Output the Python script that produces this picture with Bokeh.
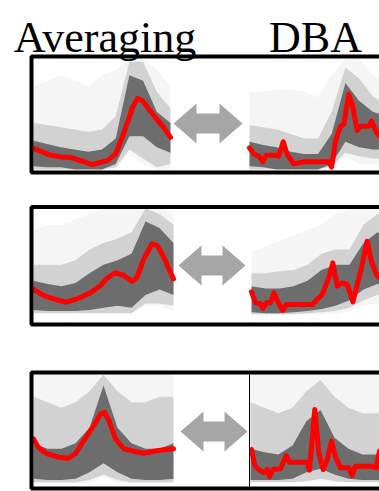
from bokeh.plotting import figure
from bokeh.models import Range1d
from bokeh.embed import file_html
from bokeh.resources import INLINE
from bokeh.core.properties import value

# ---------------- data ----------------
TITLES = ["Averaging", "DBA"]

# time grid for the grey envelopes (percent of series length)
T_BAND = [0, 10, 20, 30, 40, 50, 60, 70, 80, 90, 100]

# Row 1 - Averaging: red mean and grey envelopes (normalised 0..1)
AVG1_T = [0, 12.4, 21.2, 27, 34.3, 43, 54, 60, 65.7, 72.3, 75.9, 79.6, 87.6, 94.9, 100]
AVG1_V = [0.19, 0.13, 0.11, 0.11, 0.08, 0.045, 0.08, 0.14, 0.32, 0.56, 0.64, 0.62, 0.49, 0.38, 0.29]
AVG1_FAINT_LO = [0, 0, 0, 0, 0, 0, 0.0, 0.15, 0.05, 0, 0]
AVG1_FAINT_HI = [0.75, 0.8, 0.85, 0.8, 0.75, 0.85, 0.9, 1.0, 1.0, 0.9, 0.75]
AVG1_MID_LO = [0, 0, 0, 0, 0, 0, 0.02, 0.18, 0.1, 0.02, 0.05]
AVG1_MID_HI = [0.42, 0.4, 0.38, 0.36, 0.34, 0.36, 0.48, 0.97, 0.97, 0.7, 0.55]
AVG1_CORE_LO = [0.03, 0.02, 0.02, 0.0, 0.0, 0.0, 0.05, 0.3, 0.3, 0.2, 0.15]
AVG1_CORE_HI = [0.26, 0.23, 0.2, 0.18, 0.16, 0.18, 0.28, 0.85, 0.8, 0.52, 0.42]

# Row 1 - DBA
DBA1_T = [0, 3.1, 6.8, 9.7, 12.2, 19.0, 21.4, 24.6, 27.5, 32.3, 39.6, 57.9, 59.9, 62.8,
          66.4, 68.8, 72.5, 75.0, 78.6, 81.0, 87.1, 89.1, 92.5, 94.9]
DBA1_V = [0.195, 0.141, 0.120, 0.069, 0.129, 0.129, 0.120, 0.250, 0.135, 0.051, 0.069, 0.069,
          0.021, 0.255, 0.390, 0.405, 0.676, 0.586, 0.351, 0.390, 0.390, 0.435, 0.339, 0.300]
DBA1_FAINT_LO = [0, 0, 0, 0, 0, 0, 0.02, 0.12, 0.05, 0.05, 0.05]
DBA1_FAINT_HI = [0.7, 0.7, 0.72, 0.72, 0.7, 0.65, 0.85, 1.0, 1.0, 0.85, 0.8]
DBA1_MID_LO = [0, 0, 0, 0, 0, 0, 0.03, 0.15, 0.12, 0.1, 0.1]
DBA1_MID_HI = [0.4, 0.38, 0.36, 0.32, 0.28, 0.28, 0.52, 0.92, 0.82, 0.66, 0.58]
DBA1_CORE_LO = [0.03, 0.02, 0.0, 0.0, 0.0, 0.0, 0.05, 0.25, 0.2, 0.18, 0.18]
DBA1_CORE_HI = [0.25, 0.22, 0.2, 0.16, 0.14, 0.14, 0.32, 0.78, 0.62, 0.52, 0.48]

# Row 2 - Averaging
AVG2_T = [0, 7.4, 14.5, 22.9, 31.2, 40.7, 47.9, 52.6, 58.6, 64.5, 70.5, 74, 78.8, 84.8, 88.4, 93.1, 96.6, 100]
AVG2_V = [0.25, 0.194, 0.164, 0.132, 0.164, 0.219, 0.287, 0.355, 0.405, 0.380, 0.324, 0.364,
          0.534, 0.673, 0.657, 0.549, 0.442, 0.349]
AVG2_FAINT_LO = [0.03, 0.03, 0.03, 0.03, 0.03, 0.03, 0.03, 0.03, 0.1, 0.1, 0.05]
AVG2_FAINT_HI = [0.8, 0.85, 0.85, 0.9, 0.95, 1.0, 1.0, 1.0, 1.0, 1.0, 0.95]
AVG2_MID_LO = [0.03, 0.03, 0.03, 0.03, 0.03, 0.03, 0.03, 0.03, 0.12, 0.12, 0.1]
AVG2_MID_HI = [0.48, 0.48, 0.48, 0.52, 0.62, 0.68, 0.72, 0.78, 1.0, 0.95, 0.85]
AVG2_CORE_LO = [0.06, 0.05, 0.05, 0.05, 0.06, 0.08, 0.1, 0.08, 0.2, 0.25, 0.2]
AVG2_CORE_HI = [0.33, 0.3, 0.28, 0.31, 0.4, 0.48, 0.52, 0.58, 0.88, 0.82, 0.68]

# Row 2 - DBA
DBA2_T = [0, 2.9, 6.4, 8.1, 10.5, 13.6, 16, 19.1, 22.4, 24.8, 43.4, 50.5, 55.2, 58.1, 61.2,
          64.8, 68.4, 72.4, 75.5, 79.1, 82.6, 85.7, 89.1, 91.4]
DBA2_V = [0.229, 0.127, 0.118, 0.074, 0.127, 0.127, 0.219, 0.127, 0.056, 0.111, 0.111, 0.204,
          0.358, 0.497, 0.281, 0.312, 0.296, 0.136, 0.296, 0.481, 0.697, 0.512, 0.389, 0.358]
DBA2_FAINT_LO = [0.02, 0.02, 0.02, 0.02, 0.02, 0.02, 0.02, 0.05, 0.1, 0.12, 0.12]
DBA2_FAINT_HI = [0.6, 0.65, 0.7, 0.75, 0.8, 0.85, 0.95, 1.0, 1.0, 1.0, 1.0]
DBA2_MID_LO = [0.02, 0.02, 0.02, 0.02, 0.03, 0.04, 0.05, 0.08, 0.15, 0.2, 0.2]
DBA2_MID_HI = [0.4, 0.4, 0.42, 0.43, 0.48, 0.58, 0.62, 0.62, 0.85, 0.95, 0.9]
DBA2_CORE_LO = [0.04, 0.03, 0.03, 0.04, 0.05, 0.07, 0.1, 0.15, 0.25, 0.3, 0.3]
DBA2_CORE_HI = [0.28, 0.26, 0.26, 0.28, 0.33, 0.43, 0.48, 0.48, 0.68, 0.78, 0.72]

# Row 3 - Averaging
AVG3_T = [0, 3.6, 9.6, 17.9, 25, 30, 35.9, 43.1, 47.9, 50.7, 53.8, 58.6, 64.5, 71.6, 78.8, 85.9, 93.1, 100]
AVG3_V = [0.42, 0.34, 0.286, 0.255, 0.246, 0.286, 0.405, 0.541, 0.646, 0.66, 0.586, 0.42,
          0.331, 0.309, 0.291, 0.309, 0.322, 0.331]
AVG3_FAINT_LO = [0.02, 0.02, 0.02, 0.02, 0.02, 0.08, 0.02, 0.02, 0.02, 0.02, 0.02]
AVG3_FAINT_HI = [1.0, 1.0, 1.0, 1.0, 1.0, 1.0, 1.0, 1.0, 1.0, 1.0, 1.0]
AVG3_MID_LO = [0.03, 0.03, 0.03, 0.03, 0.05, 0.1, 0.05, 0.03, 0.03, 0.03, 0.03]
AVG3_MID_HI = [0.8, 0.75, 0.7, 0.75, 0.85, 1.0, 0.85, 0.75, 0.75, 0.8, 0.8]
AVG3_CORE_LO = [0.06, 0.05, 0.05, 0.06, 0.12, 0.2, 0.12, 0.06, 0.05, 0.05, 0.06]
AVG3_CORE_HI = [0.38, 0.33, 0.33, 0.38, 0.52, 0.9, 0.52, 0.38, 0.33, 0.33, 0.38]

# Row 3 - DBA
DBA3_T = [0.7, 3.1, 5.9, 9.5, 11.9, 13.6, 15.9, 21.4, 25.5, 27.9, 40.5, 42.1, 45.9, 48.8, 51.9,
          54.8, 57.9, 60.7, 64.3, 70.2, 72.6, 75, 85.7, 89.8, 92.1]
DBA3_V = [0.324, 0.18, 0.144, 0.114, 0.144, 0.078, 0.144, 0.15, 0.27, 0.21, 0.21, 0.138, 0.685,
          0.295, 0.144, 0.234, 0.399, 0.259, 0.159, 0.159, 0.09, 0.174, 0.174, 0.159, 0.309]
DBA3_FAINT_LO = [0.03, 0.03, 0.03, 0.03, 0.03, 0.05, 0.03, 0.03, 0.03, 0.03, 0.03]
DBA3_FAINT_HI = [1.0, 1.0, 1.0, 1.0, 1.0, 1.0, 1.0, 1.0, 1.0, 1.0, 1.0]
DBA3_MID_LO = [0.03, 0.03, 0.03, 0.03, 0.04, 0.06, 0.04, 0.03, 0.03, 0.03, 0.03]
DBA3_MID_HI = [0.75, 0.7, 0.65, 0.7, 0.85, 0.95, 0.8, 0.7, 0.65, 0.65, 0.7]
DBA3_CORE_LO = [0.05, 0.05, 0.05, 0.06, 0.12, 0.15, 0.1, 0.06, 0.05, 0.05, 0.05]
DBA3_CORE_HI = [0.33, 0.3, 0.28, 0.36, 0.58, 0.68, 0.43, 0.33, 0.28, 0.28, 0.3]

# ---------------- layout (pixels) ----------------
W, H = 379, 491
# panel boxes: (left, right, top, bottom) in page pixels
PANEL_BOX = {
    "avg1": (33, 170, 58, 169), "dba1": (249, 386, 58, 169),
    "avg2": (33, 173, 208, 316), "dba2": (251, 391, 208, 316),
    "avg3": (33, 173, 374, 485), "dba3": (250, 390, 374, 485),
}
ROW_FRAMES = [(31, 400, 56, 172), (31, 400, 206.5, 324), (31, 400, 372, 488)]
ARROWS = [(173, 242, 123), (178, 245, 265), (180, 247, 431)]

p = figure(width=W, height=H, x_range=Range1d(0, W), y_range=Range1d(H, 0),
           output_backend="svg", toolbar_location=None, min_border=0,
           x_axis_location=None, y_axis_location=None)
p.grid.visible = False
p.outline_line_color = None
p.background_fill_color = "white"
p.border_fill_color = "white"


def x_range_for(px0, px1):
    s = 100.0 / (px1 - px0)
    start = -px0 * s
    return Range1d(start, start + W * s)


def y_range_for(py_top, py_bot):
    s = 1.0 / (py_bot - py_top)
    start = -(H - py_bot) * s
    return Range1d(start, start + H * s)


for name, (x0, x1, y0, y1) in PANEL_BOX.items():
    p.extra_x_ranges[name] = x_range_for(x0, x1)
    p.extra_y_ranges[name] = y_range_for(y0, y1)

panels = {
    "avg1": (AVG1_T, AVG1_V, [(AVG1_FAINT_LO, AVG1_FAINT_HI), (AVG1_MID_LO, AVG1_MID_HI), (AVG1_CORE_LO, AVG1_CORE_HI)]),
    "dba1": (DBA1_T, DBA1_V, [(DBA1_FAINT_LO, DBA1_FAINT_HI), (DBA1_MID_LO, DBA1_MID_HI), (DBA1_CORE_LO, DBA1_CORE_HI)]),
    "avg2": (AVG2_T, AVG2_V, [(AVG2_FAINT_LO, AVG2_FAINT_HI), (AVG2_MID_LO, AVG2_MID_HI), (AVG2_CORE_LO, AVG2_CORE_HI)]),
    "dba2": (DBA2_T, DBA2_V, [(DBA2_FAINT_LO, DBA2_FAINT_HI), (DBA2_MID_LO, DBA2_MID_HI), (DBA2_CORE_LO, DBA2_CORE_HI)]),
    "avg3": (AVG3_T, AVG3_V, [(AVG3_FAINT_LO, AVG3_FAINT_HI), (AVG3_MID_LO, AVG3_MID_HI), (AVG3_CORE_LO, AVG3_CORE_HI)]),
    "dba3": (DBA3_T, DBA3_V, [(DBA3_FAINT_LO, DBA3_FAINT_HI), (DBA3_MID_LO, DBA3_MID_HI), (DBA3_CORE_LO, DBA3_CORE_HI)]),
}
BAND_ALPHA = [0.04, 0.14, 0.48]

for name, (t, v, bands) in panels.items():
    for (lo, hi), a in zip(bands, BAND_ALPHA):
        p.varea(x=T_BAND, y1=lo, y2=hi, fill_color="black", fill_alpha=a,
                x_range_name=name, y_range_name=name)
    p.line(x=t, y=v, line_color="#ff0000", line_width=5, line_join="round", line_cap="round",
           x_range_name=name, y_range_name=name)

# row frames
for (l, r, tp, bt) in ROW_FRAMES:
    p.quad(left=[l], right=[r], top=[tp], bottom=[bt], fill_color=None,
           line_color="black", line_width=4)

# thin separator in third row
p.segment(x0=[249], y0=[374], x1=[249], y1=[486], line_color="black", line_width=1)

# double arrows
HL, HH, SH = 23, 20, 10
xs, ys = [], []
for (a, b, cy) in ARROWS:
    xs.append([a, a + HL, a + HL, b - HL, b - HL, b, b - HL, b - HL, a + HL, a + HL])
    ys.append([cy, cy - HH, cy - SH, cy - SH, cy - HH, cy, cy + HH, cy + SH, cy + SH, cy + HH])
p.patches(xs=xs, ys=ys, fill_color="#a6a6a6", line_color=None)

# column titles
p.text(x=[104.5, 315], y=[37, 37], text=TITLES, text_font=value("Liberation Serif"),
       text_font_size="44px", text_align="center", text_baseline="alphabetic",
       text_color="black")

open("out.html", "w").write(file_html(p, INLINE))
